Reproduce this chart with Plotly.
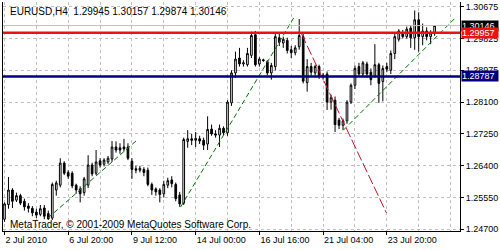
import plotly.graph_objects as go

symbol = "EURUSD,H4"

opens = [1.2497, 1.2536, 1.2575, 1.2548, 1.2560, 1.2545, 1.2532, 1.2526, 1.2516, 1.2510,
         1.2527, 1.2512, 1.2500, 1.2575, 1.2588, 1.2647, 1.2622, 1.2620, 1.2588, 1.2578,
         1.2568, 1.2588, 1.2642, 1.2620, 1.2653, 1.2644, 1.2650, 1.2658, 1.2690, 1.2688,
         1.2690, 1.2690, 1.2652, 1.2632, 1.2628, 1.2630, 1.2628, 1.2590, 1.2578, 1.2575,
         1.2565, 1.2588, 1.2602, 1.2590, 1.2562, 1.2540, 1.2705, 1.2712, 1.2708, 1.2712,
         1.2708, 1.2698, 1.2738, 1.2725, 1.2722, 1.2740, 1.2728, 1.2808, 1.2888, 1.2928,
         1.2912, 1.2910, 1.2935, 1.2990, 1.2912, 1.2923, 1.2918, 1.2888, 1.2905, 1.2982,
         1.2968, 1.2975, 1.2950, 1.2942, 1.2958, 1.2985, 1.2862, 1.2905, 1.2888, 1.2905,
         1.2882, 1.2885, 1.2810, 1.2815, 1.2762, 1.2748, 1.2760, 1.2810, 1.2855, 1.2905,
         1.2885, 1.2912, 1.2890, 1.2880, 1.2910, 1.2865, 1.2905, 1.2895, 1.2940, 1.2978,
         1.2995, 1.2985, 1.3008, 1.2982, 1.3030, 1.2985, 1.3000, 1.2985, 1.29945]
highs = [1.2542, 1.2610, 1.2580, 1.2568, 1.2565, 1.2552, 1.2540, 1.2532, 1.2525, 1.2535,
         1.2535, 1.2520, 1.2595, 1.2600, 1.2660, 1.2652, 1.2628, 1.2625, 1.2592, 1.2585,
         1.2610, 1.2668, 1.2648, 1.2682, 1.2660, 1.2660, 1.2666, 1.2706, 1.2705, 1.2700,
         1.2712, 1.2700, 1.2660, 1.2640, 1.2640, 1.2636, 1.2635, 1.2595, 1.2582, 1.2580,
         1.2600, 1.2608, 1.2612, 1.2595, 1.2570, 1.2715, 1.2735, 1.2725, 1.2730, 1.2720,
         1.2715, 1.2772, 1.2750, 1.2735, 1.2750, 1.2745, 1.2815, 1.2895, 1.2945, 1.2955,
         1.2922, 1.2955, 1.2998, 1.3000, 1.2930, 1.2926, 1.2922, 1.2915, 1.2995, 1.2995,
         1.2985, 1.2982, 1.2960, 1.2962, 1.3032, 1.2995, 1.2925, 1.2915, 1.2910, 1.2910,
         1.2888, 1.2892, 1.2830, 1.2825, 1.2768, 1.2766, 1.2815, 1.2860, 1.2908, 1.2915,
         1.2920, 1.2918, 1.2900, 1.2965, 1.2915, 1.2908, 1.2915, 1.2948, 1.2992, 1.3005,
         1.3003, 1.3012, 1.3015, 1.3055, 1.3050, 1.3020, 1.3010, 1.3002, 1.30157]
lows = [1.2490, 1.2525, 1.2527, 1.2543, 1.2535, 1.2520, 1.2515, 1.2505, 1.2500, 1.2505,
        1.2497, 1.2495, 1.2495, 1.2560, 1.2582, 1.2615, 1.2605, 1.2580, 1.2565, 1.2542,
        1.2560, 1.2580, 1.2612, 1.2615, 1.2635, 1.2638, 1.2645, 1.2650, 1.2675, 1.2672,
        1.2678, 1.2655, 1.2605, 1.2620, 1.2622, 1.2612, 1.2585, 1.2562, 1.2560, 1.2542,
        1.2555, 1.2580, 1.2582, 1.2545, 1.2530, 1.2535, 1.2688, 1.2695, 1.2690, 1.2698,
        1.2682, 1.2682, 1.2720, 1.2715, 1.2690, 1.2722, 1.2720, 1.2800, 1.2875, 1.2905,
        1.2905, 1.2905, 1.2928, 1.2905, 1.2905, 1.2918, 1.2882, 1.2870, 1.2895, 1.2960,
        1.2955, 1.2940, 1.2928, 1.2935, 1.2950, 1.2860, 1.2838, 1.2880, 1.2880, 1.2872,
        1.2870, 1.2789, 1.2790, 1.2730, 1.2738, 1.2735, 1.2752, 1.2805, 1.2845, 1.2878,
        1.2880, 1.2875, 1.2855, 1.2875, 1.2808, 1.2812, 1.2890, 1.2885, 1.2925, 1.2972,
        1.2980, 1.2980, 1.2955, 1.2950, 1.2945, 1.2962, 1.2975, 1.2965, 1.29874]
closes = [1.2538, 1.2575, 1.2545, 1.2560, 1.2540, 1.2530, 1.2526, 1.2514, 1.2508, 1.2525,
          1.2505, 1.2498, 1.2590, 1.2594, 1.2647, 1.2620, 1.2612, 1.2586, 1.2575, 1.2565,
          1.2605, 1.2642, 1.2618, 1.2650, 1.2642, 1.2655, 1.2660, 1.2690, 1.2682, 1.2682,
          1.2685, 1.2660, 1.2630, 1.2628, 1.2633, 1.2622, 1.2590, 1.2575, 1.2570, 1.2563,
          1.2590, 1.2600, 1.2592, 1.2552, 1.2538, 1.2710, 1.2712, 1.2708, 1.2713, 1.2706,
          1.2695, 1.2737, 1.2725, 1.2722, 1.2740, 1.2728, 1.2810, 1.2888, 1.2925, 1.2912,
          1.2915, 1.2940, 1.2988, 1.2910, 1.2925, 1.2921, 1.2888, 1.2908, 1.2985, 1.2970,
          1.2978, 1.2948, 1.2942, 1.2955, 1.2988, 1.2866, 1.2905, 1.2890, 1.2905, 1.2880,
          1.2878, 1.2810, 1.2822, 1.2750, 1.2748, 1.2760, 1.2810, 1.2855, 1.2900, 1.2885,
          1.2915, 1.2885, 1.2870, 1.2910, 1.2860, 1.2900, 1.2898, 1.2940, 1.2985, 1.3000,
          1.2985, 1.3005, 1.2982, 1.3030, 1.2985, 1.3000, 1.2985, 1.2995, 1.30146]

x_tick_bars = [0, 16, 32, 48, 64, 80, 96]
x_tick_labels = ["2 Jul 2010", "6 Jul 20:00", "9 Jul 12:00", "14 Jul 00:00",
                 "16 Jul 16:00", "21 Jul 04:00", "23 Jul 20:00"]
y_tick_prices = [1.24700, 1.25550, 1.26400, 1.27250, 1.28100, 1.28950, 1.29800, 1.30650]
y_tick_labels = ["1.24700", "1.25550", "1.26400", "1.27250", "1.28100", "1.28975",
                 "1.29825", "1.30675"]

hline_prices = [1.29957, 1.28787]
hline_colors = ["#f01010", "#000080"]

green1_bars = [10.9, 33.6]
green1_prices = [1.25002, 1.27114]
green2_bars = [44.2, 72.6]
green2_prices = [1.25293, 1.30348]
red_bars = [74.6, 95.9]
red_prices = [1.2992, 1.2514]
green3_bars = [85.1, 113.4]
green3_prices = [1.27352, 1.30374]

copyright_text = "MetaTrader, \u00a9 2001-2009 MetaQuotes Software Corp."

FONT = "Liberation Sans, Arial, sans-serif"
GRID = "#c0c0c0"
GDASH = "3px,3px"

bars = list(range(len(opens)))

fig = go.Figure()
fig.add_trace(go.Candlestick(
    x=bars, open=opens, high=highs, low=lows, close=closes,
    increasing=dict(line=dict(color="black", width=1), fillcolor="white"),
    decreasing=dict(line=dict(color="black", width=1), fillcolor="black"),
    whiskerwidth=0, showlegend=False, hoverinfo="skip",
))

for bx, py, col, dash in [(green1_bars, green1_prices, "#007000", "5px,3px"),
                          (green2_bars, green2_prices, "#007000", "5px,3px"),
                          (red_bars, red_prices, "#c8102e", "10px,3px"),
                          (green3_bars, green3_prices, "#007000", "5px,3px")]:
    fig.add_trace(go.Scatter(x=bx, y=py, mode="lines",
                             line=dict(color=col, width=1, dash=dash),
                             showlegend=False, hoverinfo="skip"))

bid = closes[-1]
shapes = [dict(type="line", xref="paper", x0=0, x1=1, yref="y", y0=bid, y1=bid,
               line=dict(color="#c0c0c0", width=1), layer="above")]
for p, c in zip(hline_prices, hline_colors):
    shapes.append(dict(type="line", xref="paper", x0=0, x1=1, yref="y", y0=p, y1=p,
                       line=dict(color=c, width=2.5), layer="above"))

annotations = [
    dict(xref="paper", yref="paper", x=0, y=1, xshift=5, yshift=-9,
         xanchor="left", yanchor="middle", showarrow=False,
         text=f"{symbol}\u00a0\u00a0{opens[-1]:.5f} {highs[-1]:.5f} {lows[-1]:.5f} {closes[-1]:.5f}",
         font=dict(family=FONT, size=10, color="black")),
    dict(xref="paper", yref="paper", x=0, y=0, xshift=5, yshift=7,
         xanchor="left", yanchor="middle", showarrow=False,
         text=copyright_text, font=dict(family=FONT, size=10, color="black")),
]
for p, c in [(bid, "black")] + list(zip(hline_prices, hline_colors)):
    annotations.append(dict(xref="paper", yref="y", x=1, y=p, xshift=1,
                            xanchor="left", yanchor="middle", showarrow=False,
                            text=f"{p:.5f}", bgcolor=c, width=36, height=10,
                            borderpad=0, align="left",
                            font=dict(family=FONT, size=9, color="white")))

fig.update_layout(
    width=500, height=250,
    margin=dict(l=2, r=39, t=2, b=19),
    paper_bgcolor="white", plot_bgcolor="white",
    boxgap=0.4,
    xaxis=dict(range=[-0.375, 114.375], tickmode="array", tickvals=x_tick_bars,
               ticktext=x_tick_labels, ticks="outside", ticklen=3, tickcolor="black",
               ticklabelposition="outside right",
               showline=True, linecolor="black", linewidth=1,
               showgrid=True, gridcolor=GRID, griddash=GDASH, gridwidth=1,
               minor=dict(tickmode="linear", tick0=0, dtick=8, showgrid=True,
                          gridcolor=GRID, griddash=GDASH, gridwidth=1),
               zeroline=False, rangeslider=dict(visible=False),
               tickfont=dict(family=FONT, size=9, color="black")),
    yaxis=dict(range=[1.24655, 1.30776], side="right", tickmode="array",
               tickvals=y_tick_prices, ticktext=y_tick_labels,
               ticks="outside", ticklen=3, tickcolor="black",
               showline=True, mirror=True, linecolor="black", linewidth=1,
               showgrid=True, gridcolor=GRID, griddash=GDASH, gridwidth=1,
               zeroline=False, tickfont=dict(family=FONT, size=9, color="black")),
    shapes=shapes, annotations=annotations,
)

fig.write_html("out.html")
